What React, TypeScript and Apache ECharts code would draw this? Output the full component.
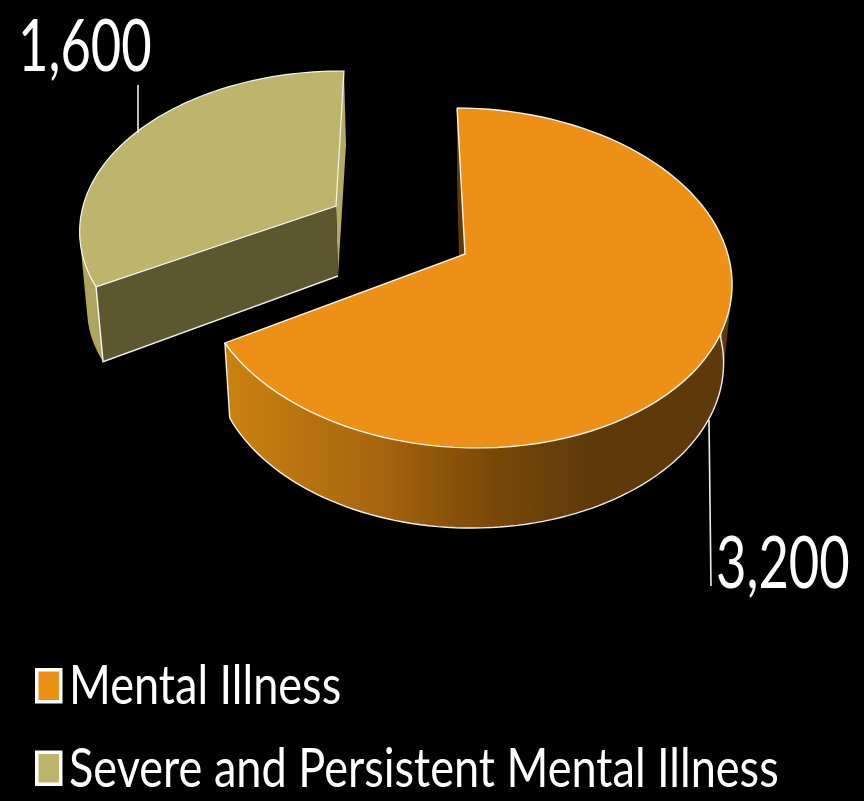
import React, { useEffect, useRef } from "react";
import * as echarts from "echarts";

const categories = ["Mental Illness", "Severe and Persistent Mental Illness"];
const values = [3200, 1600];
const colors = ["#ED9116", "#BFB46B"];
const valueLabels = ["3,200", "1,600"];

// Perspective projection of a unit disc: apex offset, linear terms and depth foreshortening.
type Proj = { px: number; py: number; ax: number; ay: number; bx: number; by: number; k: number };
const project = (p: Proj, theta: number): number[] => {
  const x = Math.sin(theta);
  const y = -Math.cos(theta);
  const d = 1 - p.k * y;
  return [p.px + (p.ax * x + p.bx * y) / d, p.py + (p.ay * x + p.by * y) / d];
};
const arc = (p: Proj, from: number, to: number): number[][] => {
  const pts: number[][] = [];
  const n = 90;
  for (let i = 0; i <= n; i++) pts.push(project(p, from + ((to - from) * i) / n));
  return pts;
};

// Outline enclosing a wall's top and base curves (monotone chain).
const hull = (points: number[][]): number[][] => {
  const s = [...points].sort((a, b) => a[0] - b[0] || a[1] - b[1]);
  const cross = (o: number[], a: number[], b: number[]) =>
    (a[0] - o[0]) * (b[1] - o[1]) - (a[1] - o[1]) * (b[0] - o[0]);
  const half = (list: number[][]) => {
    const out: number[][] = [];
    for (const p of list) {
      while (out.length >= 2 && cross(out[out.length - 2], out[out.length - 1], p) <= 0) out.pop();
      out.push(p);
    }
    out.pop();
    return out;
  };
  return [...half(s), ...half([...s].reverse())];
};

const orangeTop: Proj = { px: 465, py: 254, ax: 263, ay: 0.7, bx: 9.1, by: 166.6, k: 0.141 };
const orangeBase: Proj = { px: 467, py: 326, ax: 249, ay: -3.1, bx: 7.3, by: 159, k: 0.213 };
const goldTop: Proj = { px: 336, py: 206, ax: 252.4, ay: 2, bx: -9.1, by: 153.9, k: 0.14 };
const goldBase: Proj = { px: 338, py: 276, ax: 247, ay: -6, bx: -9.1, by: 149, k: 0.14 };

const total = values.reduce((a, b) => a + b, 0);
const sweep = (v: number) => (v / total) * Math.PI * 2;
const edge = "rgba(255,255,255,0.92)";
const textFont = "Lato, sans-serif";

const poly = (points: number[][], fill: unknown) => ({
  type: "polygon",
  shape: { points },
  style: { fill, stroke: "none" },
});
const line = (points: number[][], width = 1.4) => ({
  type: "polyline",
  shape: { points },
  style: { fill: "none", stroke: edge, lineWidth: width },
});
const label = (text: string, x: number, y: number) => ({
  type: "text",
  x,
  y,
  scaleX: 0.74,
  style: {
    text,
    fill: "#ffffff",
    font: `71px ${textFont}`,
    verticalAlign: "middle",
  },
});

const renderOrange = (_: unknown, api: any) => {
  const end = sweep(api.value(0));
  const wallGradient = new echarts.graphic.LinearGradient(
    228, 0, 590, 0,
    [
      { offset: 0, color: "#C9820F" },
      { offset: 0.4, color: "#A9660F" },
      { offset: 0.75, color: "#774708" },
      { offset: 1, color: "#5E3A0A" },
    ],
    true,
  );
  const topArc = arc(orangeTop, 0, end);
  const wallStart = (Math.PI * 5) / 12;
  const wallTop = arc(orangeTop, wallStart, end);
  const wallBase = arc(orangeBase, wallStart, end);
  const tip = topArc[0];
  const apex = [orangeTop.px, orangeTop.py];
  return {
    type: "group",
    children: [
      poly(hull([...wallTop, ...wallBase]), wallGradient),
      line(arc(orangeBase, Math.PI * 0.53, end)),
      line([wallTop[wallTop.length - 1], wallBase[wallBase.length - 1]]),
      line([project(orangeTop, Math.PI * 0.47), project(orangeBase, Math.PI * 0.53)]),
      poly([tip, apex, [459, 256], [457, 180]], "#5E3A0A"),
      poly([...topArc, apex], colors[0]),
      line([...topArc, apex, tip]),
      line([[709, 420], [711, 586]], 1.6),
      label(valueLabels[0], 716, 560),
    ],
  };
};

const renderGold = (_: unknown, api: any) => {
  const start = sweep(values[0]);
  const end = start + sweep(api.value(0));
  const topArc = arc(goldTop, start, end);
  const wallTop = arc(goldTop, start, start + Math.PI / 3);
  const wallBase = arc(goldBase, start, start + Math.PI / 3);
  const apex = [goldTop.px, goldTop.py];
  const baseApex = [goldBase.px, goldBase.py];
  const first = topArc[0];
  const last = topArc[topArc.length - 1];
  const baseFirst = wallBase[0];
  return {
    type: "group",
    children: [
      poly(hull([...wallTop, ...wallBase]), "#B0A560"),
      poly([last, project(goldBase, end), baseApex, apex], "#B5AA63"),
      poly([first, apex, baseApex, baseFirst], "#5D5730"),
      line([first, baseFirst, baseApex]),
      poly([...topArc, apex], colors[1]),
      line([...topArc, apex, first], 1.2),
      line([[138, 85], [138, 133]], 1.6),
      label(valueLabels[1], 18, 43),
    ],
  };
};

export default function App() {
  const ref = useRef<HTMLDivElement>(null);
  useEffect(() => {
    document.body.style.margin = "0";
    document.body.style.background = "#000";
    const chart = echarts.init(ref.current!, undefined, { renderer: "svg" });
    chart.setOption({
      animation: false,
      backgroundColor: "#000000",
      legend: {
        orient: "vertical",
        left: 35,
        top: 668,
        padding: 0,
        icon: "rect",
        itemWidth: 24,
        itemHeight: 32,
        itemGap: 47,
        selectedMode: false,
        formatter: () => "",
        data: categories.map((name, i) => ({
          name,
          itemStyle: { color: colors[i], borderColor: "#ffffff", borderWidth: 3.5 },
        })),
      },
      // Legend captions are condensed, which legend text cannot do on its own.
      graphic: categories.map((name, i) => ({
        type: "text",
        x: 69,
        y: 683 + i * 83,
        scaleX: 0.82,
        style: {
          text: name,
          fill: "#ffffff",
          font: `55px ${textFont}`,
          verticalAlign: "middle",
        },
      })),
      series: [
        {
          type: "custom",
          name: categories[0],
          coordinateSystem: "none",
          itemStyle: { color: colors[0] },
          renderItem: renderOrange,
          data: [values[0]],
          silent: true,
        },
        {
          type: "custom",
          name: categories[1],
          coordinateSystem: "none",
          itemStyle: { color: colors[1] },
          renderItem: renderGold,
          data: [values[1]],
          silent: true,
        },
      ],
    });
    return () => chart.dispose();
  }, []);
  return <div ref={ref} style={{ width: 864, height: 801 }} />;
}
